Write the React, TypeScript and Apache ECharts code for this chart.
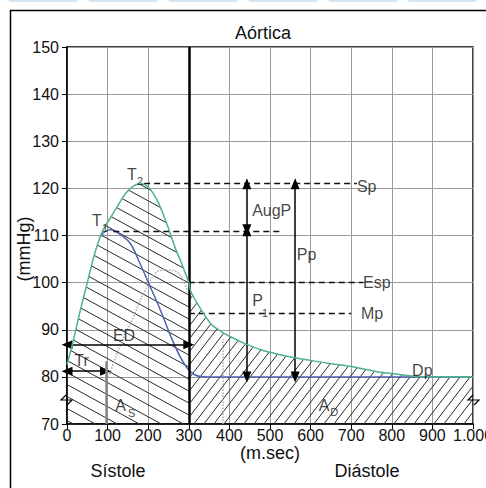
import React, { useEffect, useRef } from "react";
import * as echarts from "echarts";

// ---- data (time in ms, pressure in mmHg) ----
const aorticT = [0, 15, 33, 50, 66, 80, 89, 105, 123, 145, 165, 182, 200, 222, 240, 254, 268, 279, 290, 300, 304, 312, 328, 353, 380, 410, 440, 476, 520, 558, 600, 650, 700, 763, 810, 850, 900, 1000];
const aorticP = [82.6, 87.5, 94.2, 100, 105.5, 109.3, 111.2, 113.5, 116, 119, 120.6, 121, 120.3, 117.5, 113.8, 110.5, 107, 104.8, 102.3, 100, 98.4, 96.9, 94.6, 91.4, 89.6, 88.2, 87, 85.8, 84.8, 84.1, 83.5, 82.8, 82.2, 81.1, 80.6, 80.2, 80, 80];

const incidentT = [82, 95, 107, 130, 156, 180, 201, 230, 259, 283, 304, 328, 360, 1000];
const incidentP = [109.7, 110.9, 111.2, 110.3, 108.3, 104, 99.9, 94.2, 87.9, 83.6, 81.1, 80.1, 80, 80];

const reflectedT = [100, 107, 130, 164, 189, 222, 246, 275, 297];
const reflectedP = [80, 81.1, 86.5, 92.8, 97.8, 102.3, 102.7, 102, 98.1];

const SYSTOLE_END = 300;
const yTickMin = 70;
const yTickMax = 150;

// dashed reference levels: [xStart, xEnd, level]
const dashedLevels = [
  [190, 714, 121], // Sp
  [114, 530, 111], // T1
  [300, 730, 100], // Esp
  [300, 700, 93.5], // Mp
];

// double arrows: [x1, y1, x2, y2]
const arrows = [
  [0, 86.8, 300, 86.8], // ED
  [0, 81.2, 95, 81.2], // Tr
  [443, 121, 443, 111.2], // AugP
  [443, 111, 443, 80], // P1
  [562, 121, 562, 80], // Pp
];

// annotation labels (left edge, vertical centre): [x, y, text]
const labels: [number, number, string][] = [
  [61.6, 113.1, "T"],
  [147.8, 123.0, "T"],
  [714, 120.5, "Sp"],
  [729, 100, "Esp"],
  [724, 93.5, "Mp"],
  [850, 81.3, "Dp"],
  [566, 105.9, "Pp"],
  [456, 115.4, "AugP"],
  [456, 96.3, "P"],
  [113, 88.7, "ED"],
  [18, 83.4, "Tr"],
  [119, 73.9, "A"],
  [620, 73.9, "A"],
];

// subscripts: [x, y, text]
const subLabels: [number, number, string][] = [
  [86.2, 111.6, "1"],
  [172.4, 121.5, "2"],
  [480, 93.5, "1"],
  [150.2, 72.4, "S"],
  [648.5, 72.5, "D"],
];

const FONT = '"Liberation Sans", Arial, Helvetica, sans-serif';

function makeHatch(w: number, h: number, forward: boolean) {
  const c = document.createElement("canvas");
  c.width = w;
  c.height = h;
  const ctx = c.getContext("2d")!;
  ctx.strokeStyle = "#2a2a2a";
  ctx.lineWidth = 1;
  for (const dx of [-w, 0, w]) {
    ctx.beginPath();
    if (forward) {
      ctx.moveTo(dx - w, 2 * h);
      ctx.lineTo(dx + 2 * w, -h);
    } else {
      ctx.moveTo(dx - w, -h);
      ctx.lineTo(dx + 2 * w, 2 * h);
    }
    ctx.stroke();
  }
  return { image: c, repeat: "repeat", imageWidth: w, imageHeight: h };
}

function textSeries(name: string, items: [number, number, string][], fontSize: number) {
  return {
    name,
    type: "scatter",
    symbolSize: 0,
    silent: true,
    data: items.map((l) => ({ value: [l[0], l[1]], txt: l[2] })),
    label: {
      show: true,
      position: "right",
      distance: 0,
      color: "#111",
      fontSize,
      fontFamily: FONT,
      formatter: (p: any) => p.data.txt,
    },
    z: 10,
  };
}

export default function App() {
  const ref = useRef<HTMLDivElement>(null);

  useEffect(() => {
    if (!ref.current) return;
    const chart = echarts.init(ref.current, null, { renderer: "svg" });

    const aortic = aorticT.map((t, i) => [t, aorticP[i]]);
    const sys = aortic.filter((p) => p[0] <= SYSTOLE_END);
    const dia = aortic.filter((p) => p[0] >= SYSTOLE_END);
    const incident = incidentT.map((t, i) => [t, incidentP[i]]);
    const reflected = reflectedT.map((t, i) => [t, reflectedP[i]]);

    const tabs = [8, 88, 168, 248, 328, 407].map((x) => ({
      type: "rect",
      shape: { x, y: -4, width: 70, height: 6, r: 3 },
      style: { fill: "#d3e4f3" },
      silent: true,
    }));

    const markSeries = (name: string, data: any[], lineStyle: any, extra: any = {}) => ({
      name,
      type: "line",
      data: [],
      silent: true,
      markLine: {
        silent: true,
        symbol: "none",
        label: { show: false },
        lineStyle,
        data,
        ...extra,
      },
      z: 6,
    });

    const option: any = {
      animation: false,
      backgroundColor: "#fff",
      textStyle: { fontFamily: FONT },
      grid: {
        left: 67,
        right: 13,
        top: 47,
        bottom: 64,
        outerBoundsMode: "none",
        containLabel: false,
        show: true,
        borderColor: "#000",
        borderWidth: 1.5,
      },
      xAxis: {
        type: "value",
        min: 0,
        max: 1000,
        interval: 100,
        axisLine: { lineStyle: { color: "#000", width: 1.5 } },
        axisTick: { lineStyle: { color: "#000" }, length: 5 },
        axisLabel: {
          color: "#111",
          fontSize: 16,
          fontFamily: FONT,
          margin: 3,
          formatter: (v: number) => (v === 1000 ? "1.000" : String(v)),
        },
        splitLine: { show: true, lineStyle: { color: "#9a9a9a", width: 1 } },
      },
      yAxis: {
        type: "value",
        min: yTickMin,
        max: yTickMax,
        interval: 10,
        axisLine: { show: true, lineStyle: { color: "#000", width: 1.5 } },
        axisTick: { show: true, lineStyle: { color: "#000" }, length: 5 },
        axisLabel: { color: "#111", fontSize: 16, fontFamily: FONT, margin: 8 },
        splitLine: { show: true, lineStyle: { color: "#9a9a9a", width: 1 } },
      },
      graphic: [
        ...tabs,
        {
          type: "rect",
          shape: { x: 10.5, y: 10.5, width: 490, height: 490 },
          style: { fill: "none", stroke: "#000", lineWidth: 1.5 },
          silent: true,
        },
        {
          type: "text",
          x: 263,
          y: 33,
          style: { text: "Aórtica", fill: "#111", font: `18px ${FONT}`, textAlign: "center", textVerticalAlign: "middle" },
        },
        {
          type: "text",
          x: 24,
          y: 249,
          rotation: Math.PI / 2,
          style: { text: "(mmHg)", fill: "#111", font: `18px ${FONT}`, textAlign: "center", textVerticalAlign: "middle" },
        },
        {
          type: "text",
          x: 270,
          y: 452.5,
          style: { text: "(m.sec)", fill: "#111", font: `18px ${FONT}`, textAlign: "center", textVerticalAlign: "middle" },
        },
        {
          type: "text",
          x: 118,
          y: 471,
          style: { text: "Sístole", fill: "#111", font: `18px ${FONT}`, textAlign: "center", textVerticalAlign: "middle" },
        },
        {
          type: "text",
          x: 367,
          y: 471,
          style: { text: "Diástole", fill: "#111", font: `18px ${FONT}`, textAlign: "center", textVerticalAlign: "middle" },
        },
        {
          type: "polyline",
          shape: { points: [[66, 395], [61, 400], [72, 400], [67, 405]] },
          style: { stroke: "#000", lineWidth: 1.2, fill: "none" },
          z: 100,
        },
        {
          type: "polyline",
          shape: { points: [[473, 395], [468, 400], [479, 400], [474, 405]] },
          style: { stroke: "#000", lineWidth: 1.2, fill: "none" },
          z: 100,
        },
      ],
      series: [
        {
          name: "systole area",
          type: "line",
          data: sys,
          smooth: 0.35,
          symbol: "none",
          lineStyle: { width: 0 },
          areaStyle: { color: makeHatch(22, 12, false), opacity: 1, origin: "start" },
          silent: true,
          z: 1,
        },
        {
          name: "diastole area",
          type: "line",
          data: dia,
          smooth: 0.35,
          symbol: "none",
          lineStyle: { width: 0 },
          areaStyle: { color: makeHatch(10, 13, true), opacity: 1, origin: "start" },
          silent: true,
          z: 1,
        },
        {
          name: "reflected",
          type: "line",
          data: reflected,
          smooth: 0.35,
          symbol: "none",
          lineStyle: { color: "#a8a8a8", width: 1.5, type: "dotted" },
          silent: true,
          z: 3,
        },
        {
          name: "incident",
          type: "line",
          data: incident,
          smooth: 0.35,
          symbol: "none",
          lineStyle: { color: "#5060b0", width: 1.5 },
          silent: true,
          z: 4,
        },
        {
          name: "aortic",
          type: "line",
          data: aortic,
          smooth: 0.35,
          symbol: "none",
          lineStyle: { color: "#4db38a", width: 1.5 },
          silent: true,
          z: 5,
        },
        markSeries(
          "divider",
          [[{ coord: [SYSTOLE_END, yTickMin] }, { coord: [SYSTOLE_END, yTickMax] }]],
          { color: "#000", width: 2.5, type: "solid" }
        ),
        markSeries(
          "levels",
          dashedLevels.map((d) => [{ coord: [d[0], d[2]] }, { coord: [d[1], d[2]] }]),
          { color: "#111", width: 1.4, type: [6, 4] }
        ),
        markSeries(
          "arrows",
          arrows.map((a) => [{ coord: [a[0], a[1]] }, { coord: [a[2], a[3]] }]),
          { color: "#000", width: 1.5, type: "solid" },
          { symbol: ["triangle", "triangle"], symbolSize: [9, 11], itemStyle: { color: "#000" } }
        ),
        markSeries(
          "Tr mark",
          [[{ coord: [97, yTickMin] }, { coord: [97, 83.3] }]],
          { color: "#888", width: 2.5, type: "solid" }
        ),
        markSeries(
          "reflected end",
          [[{ coord: [383, yTickMin] }, { coord: [383, 88] }]],
          { color: "#a8a8a8", width: 1.5, type: "dotted" }
        ),
        textSeries("labels", labels, 16),
        textSeries("subscripts", subLabels, 11),
      ],
    };

    chart.setOption(option);
    return () => chart.dispose();
  }, []);

  return (
    <div
      ref={ref}
      style={{ position: "fixed", left: 0, top: 0, width: 486, height: 488, background: "#fff" }}
    />
  );
}
